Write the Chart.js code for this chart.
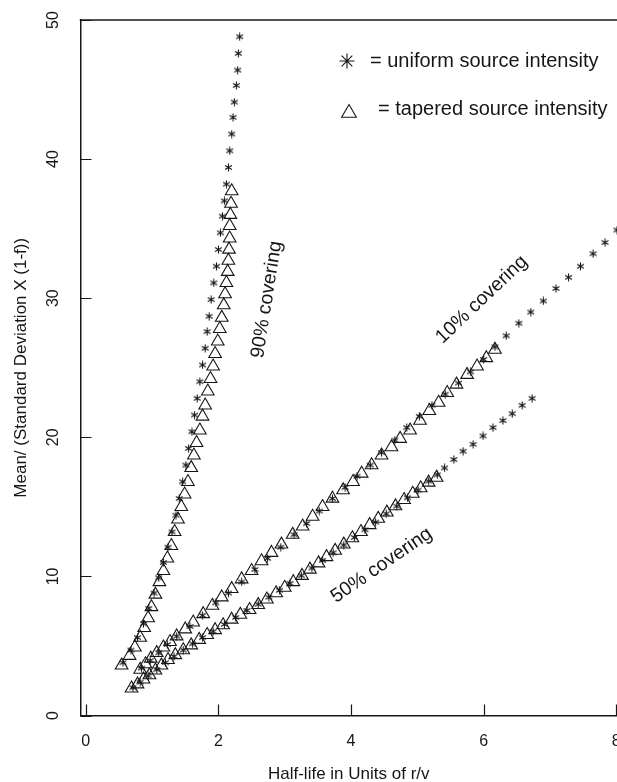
<!DOCTYPE html>
<html>
<head>
<meta charset="utf-8">
<script src="https://cdn.jsdelivr.net/npm/chart.js@4/dist/chart.umd.min.js"></script>
<style>
  html, body { margin: 0; padding: 0; background: #fff; }
  #moldura { width: 617px; height: 782px; overflow: hidden; position: relative; }
  #grafico { position: absolute; left: 0; top: 0; }
</style>
</head>
<body>
<div id="moldura"><canvas id="grafico" width="640" height="800"></canvas></div>
<script>
// valores: [meia-vida (r/v), media / (desvio padrao X (1-f))]
const uniforme90 = [[0.56,3.8],[0.68,4.7],[0.78,5.6],[0.87,6.6],[0.95,7.7],[1.03,8.8],[1.10,9.9],[1.17,11.0],[1.24,12.1],[1.30,13.2],[1.36,14.4],[1.41,15.6],[1.46,16.8],[1.51,18.0],[1.55,19.2],[1.60,20.4],[1.64,21.6],[1.68,22.8],[1.72,24.0],[1.76,25.2],[1.80,26.4],[1.83,27.6],[1.86,28.7],[1.89,29.9],[1.93,31.1],[1.97,32.3],[2.00,33.5],[2.03,34.7],[2.06,35.9],[2.09,37.0],[2.12,38.2],[2.15,39.4],[2.17,40.6],[2.20,41.8],[2.22,43.0],[2.24,44.1],[2.27,45.3],[2.29,46.4],[2.30,47.6],[2.32,48.8]];
const afunilado90 = [[0.54,3.6],[0.66,4.3],[0.74,4.9],[0.82,5.6],[0.88,6.3],[0.94,7.0],[0.99,7.8],[1.05,8.7],[1.11,9.6],[1.17,10.4],[1.23,11.3],[1.29,12.2],[1.34,13.2],[1.39,14.1],[1.44,15.0],[1.49,15.9],[1.54,16.8],[1.59,17.8],[1.63,18.7],[1.67,19.6],[1.72,20.5],[1.76,21.5],[1.80,22.3],[1.84,23.3],[1.88,24.2],[1.92,25.1],[1.95,26.0],[1.99,26.9],[2.02,27.8],[2.05,28.6],[2.08,29.5],[2.10,30.3],[2.12,31.1],[2.14,31.9],[2.15,32.7],[2.16,33.5],[2.17,34.3],[2.17,35.2],[2.18,36.0],[2.19,36.8],[2.20,37.7]];
const uniforme10 = [[0.84,3.4],[0.97,3.95],[1.10,4.5],[1.23,5.1],[1.37,5.7],[1.57,6.4],[1.76,7.2],[1.96,8.1],[2.15,8.8],[2.35,9.6],[2.55,10.5],[2.74,11.3],[2.94,12.1],[3.14,13.0],[3.33,13.8],[3.52,14.7],[3.72,15.6],[3.91,16.4],[4.09,17.2],[4.29,18.0],[4.46,18.9],[4.66,19.8],[4.84,20.7],[5.03,21.5],[5.22,22.3],[5.42,23.1],[5.62,23.9],[5.80,24.7],[6.00,25.6],[6.17,26.5],[6.34,27.3],[6.53,28.2],[6.71,29.0],[6.90,29.8],[7.09,30.7],[7.28,31.5],[7.46,32.3],[7.65,33.2],[7.83,34.0],[8.01,34.9]];
const afunilado10 = [[0.82,3.3],[0.90,3.7],[0.98,4.1],[1.07,4.5],[1.17,4.9],[1.27,5.3],[1.37,5.7],[1.50,6.2],[1.62,6.7],[1.77,7.3],[1.91,7.9],[2.05,8.5],[2.20,9.1],[2.35,9.8],[2.50,10.4],[2.65,11.1],[2.80,11.7],[2.95,12.3],[3.12,13.0],[3.27,13.6],[3.42,14.3],[3.57,15.0],[3.72,15.6],[3.88,16.2],[4.03,16.8],[4.16,17.4],[4.31,18.0],[4.46,18.7],[4.61,19.3],[4.74,19.9],[4.89,20.5],[5.04,21.2],[5.18,21.9],[5.32,22.5],[5.45,23.2],[5.59,23.8],[5.75,24.5],[5.90,25.1],[6.04,25.7],[6.17,26.3]];
const uniforme50 = [[0.71,2.0],[0.82,2.4],[0.94,2.85],[1.07,3.3],[1.20,3.8],[1.33,4.25],[1.47,4.7],[1.61,5.15],[1.76,5.6],[1.92,6.05],[2.09,6.55],[2.26,7.05],[2.43,7.55],[2.60,8.0],[2.76,8.5],[2.92,9.0],[3.08,9.5],[3.25,10.05],[3.41,10.6],[3.57,11.15],[3.73,11.7],[3.89,12.25],[4.05,12.8],[4.21,13.35],[4.37,13.9],[4.53,14.5],[4.69,15.05],[4.85,15.65],[5.01,16.2],[5.17,16.85],[5.30,17.3],[5.41,17.8],[5.55,18.4],[5.69,19.0],[5.84,19.5],[5.99,20.1],[6.14,20.7],[6.29,21.2],[6.43,21.7],[6.58,22.3],[6.73,22.8]];
const afunilado50 = [[0.69,1.95],[0.78,2.25],[0.87,2.6],[0.96,2.9],[1.05,3.25],[1.14,3.6],[1.24,4.0],[1.35,4.35],[1.47,4.7],[1.59,5.05],[1.71,5.45],[1.83,5.8],[1.95,6.15],[2.07,6.5],[2.20,6.9],[2.33,7.25],[2.47,7.6],[2.60,7.95],[2.73,8.35],[2.87,8.8],[3.00,9.2],[3.13,9.6],[3.26,10.05],[3.38,10.5],[3.51,10.95],[3.63,11.4],[3.76,11.85],[3.89,12.3],[4.02,12.75],[4.15,13.2],[4.28,13.7],[4.41,14.15],[4.54,14.6],[4.67,15.05],[4.80,15.5],[4.93,15.95],[5.05,16.35],[5.17,16.75],[5.29,17.1]];

const ticksX = [0, 2, 4, 6, 8];
const ticksY = [0, 10, 20, 30, 40, 50];
const tituloX = "Half-life in Units of r/v";
const tituloY = "Mean/ (Standard Deviation X (1-f))";
const textosLegenda = ["= uniform source intensity", "= tapered source intensity"];
const textosCobertura = ["90% covering", "10% covering", "50% covering"];

// onde ficam os rotulos das curvas (coordenadas do grafico) e o angulo
const posCobertura = [
  { x: 2.73, y: 29.9, ang: -81 },
  { x: 5.97, y: 29.9, ang: -43.5 },
  { x: 4.46, y: 10.8, ang: -34.5 }
];

const corTinta = "#161616";
const fonte = "'Liberation Sans', Arial, Helvetica, sans-serif";
Chart.defaults.font.family = fonte;
Chart.defaults.color = corTinta;

function criarAsterisco(tam) {
  const c = document.createElement("canvas");
  c.width = tam;
  c.height = tam;
  const g = c.getContext("2d");
  const m = tam / 2, r = tam / 2 - 0.6;
  g.strokeStyle = corTinta;
  g.lineWidth = 1.1;
  g.beginPath();
  for (let i = 0; i < 3; i++) {
    const a = Math.PI / 2 + i * Math.PI / 3;
    g.moveTo(m + Math.cos(a) * r, m - Math.sin(a) * r);
    g.lineTo(m - Math.cos(a) * r, m + Math.sin(a) * r);
  }
  g.stroke();
  return c;
}
const asterisco = criarAsterisco(9);

const paraPontos = lista => lista.map(p => ({ x: p[0], y: p[1] }));

function serieTriangulo(lista) {
  return {
    data: paraPontos(lista),
    pointStyle: "triangle",
    pointRadius: 7.3,
    pointBorderWidth: 1.1,
    pointBorderColor: corTinta,
    pointBackgroundColor: "rgba(0,0,0,0)"
  };
}
function serieAsterisco(lista) {
  return {
    data: paraPontos(lista),
    pointStyle: asterisco,
    pointRadius: 4.5,
    pointBorderWidth: 0
  };
}

const extras = {
  id: "extras",
  afterDraw(chart) {
    const { ctx, chartArea: a, scales: { x, y } } = chart;
    ctx.save();
    ctx.strokeStyle = corTinta;
    // linha de cima da moldura
    ctx.lineWidth = 1.5;
    ctx.beginPath();
    ctx.moveTo(a.left - 0.75, a.top);
    ctx.lineTo(a.right + 10, a.top);
    ctx.stroke();
    // tracinhos virados para dentro
    ctx.lineWidth = 1.2;
    ctx.beginPath();
    x.ticks.forEach(t => {
      const px = Math.round(x.getPixelForValue(t.value)) + 0.5;
      ctx.moveTo(px, a.bottom);
      ctx.lineTo(px, a.bottom - 11);
    });
    y.ticks.forEach(t => {
      const py = Math.round(y.getPixelForValue(t.value)) + 0.5;
      ctx.moveTo(a.left, py);
      ctx.lineTo(a.left + 11, py);
    });
    ctx.stroke();

    // rotulos das curvas
    ctx.fillStyle = corTinta;
    ctx.font = `19.5px ${fonte}`;
    ctx.textAlign = "center";
    ctx.textBaseline = "middle";
    textosCobertura.forEach((txt, i) => {
      const p = posCobertura[i];
      ctx.save();
      ctx.translate(x.getPixelForValue(p.x), y.getPixelForValue(p.y));
      ctx.rotate(p.ang * Math.PI / 180);
      ctx.fillText(txt, 0, 0);
      ctx.restore();
    });

    // legenda
    ctx.lineWidth = 1.1;
    ctx.beginPath();
    const sx = 347, sy = 61, sr = 7.5;
    for (let i = 0; i < 4; i++) {
      const ang = i * Math.PI / 4;
      ctx.moveTo(sx + Math.cos(ang) * sr, sy + Math.sin(ang) * sr);
      ctx.lineTo(sx - Math.cos(ang) * sr, sy - Math.sin(ang) * sr);
    }
    ctx.stroke();
    const tx = 349, ty = 113, tr = 8.5;
    ctx.beginPath();
    ctx.moveTo(tx, ty - tr);
    ctx.lineTo(tx + tr * Math.sqrt(3) / 2, ty + tr / 2);
    ctx.lineTo(tx - tr * Math.sqrt(3) / 2, ty + tr / 2);
    ctx.closePath();
    ctx.stroke();
    ctx.font = `20px ${fonte}`;
    ctx.textAlign = "left";
    ctx.textBaseline = "alphabetic";
    ctx.fillText(textosLegenda[0], 370, 67);
    ctx.fillText(textosLegenda[1], 378, 115);
    ctx.restore();
  }
};

const ctx = document.getElementById("grafico").getContext("2d");

const grafico = new Chart(ctx, {
  type: "scatter",
  data: {
    datasets: [
      serieTriangulo(afunilado90),
      serieAsterisco(uniforme90),
      serieTriangulo(afunilado10),
      serieAsterisco(uniforme10),
      serieTriangulo(afunilado50),
      serieAsterisco(uniforme50)
    ]
  },
  options: {
    responsive: false,
    animation: false,
    devicePixelRatio: 1,
    events: [],
    layout: { padding: { top: 20, right: 23, bottom: 0, left: 0 } },
    plugins: {
      legend: { display: false },
      tooltip: { enabled: false }
    },
    scales: {
      x: {
        type: "linear",
        min: -0.08,
        max: 8.0105,
        afterBuildTicks: s => { s.ticks = ticksX.map(v => ({ value: v })); },
        afterFit: s => { s.height = 84.5; s.paddingLeft = 0; s.paddingRight = 0; },
        grid: { display: false, drawTicks: false },
        border: { display: true, color: corTinta, width: 1.5 },
        ticks: { padding: 16, maxRotation: 0, autoSkip: false, font: { size: 16 } },
        title: { display: true, text: tituloX, font: { size: 17 }, padding: { top: 0, bottom: 15 } }
      },
      y: {
        type: "linear",
        min: 0,
        max: 50,
        afterBuildTicks: s => { s.ticks = ticksY.map(v => ({ value: v })); },
        afterFit: s => { s.width = 80.5; s.paddingTop = 0; s.paddingBottom = 0; },
        grid: { display: false, drawTicks: false },
        border: { display: true, color: corTinta, width: 1.5 },
        ticks: { padding: 18, minRotation: 90, maxRotation: 90, crossAlign: "center", autoSkip: false, font: { size: 16 } },
        title: { display: true, text: tituloY, font: { size: 17 }, padding: { top: 11, bottom: 0 } }
      }
    }
  },
  plugins: [extras]
});
</script>
</body>
</html>
